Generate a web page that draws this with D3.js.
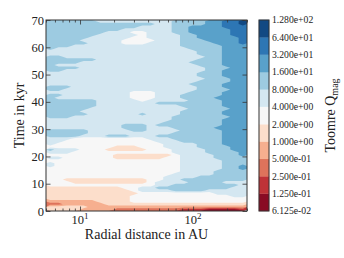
<!DOCTYPE html>
<html>
<head>
<meta charset="utf-8">
<script src="https://cdn.jsdelivr.net/npm/d3@7"></script>
<style>
  html, body { margin: 0; padding: 0; background: #fff; }
  svg { display: block; }
  text { font-family: "Liberation Serif", "DejaVu Serif", serif; fill: #222; }
</style>
</head>
<body>
<svg id="chart" width="344" height="258"></svg>
<script>
// ---------------- data ----------------
const radialDomain = [5, 300];          // AU (log axis)
const timeDomain = [0, 70];             // kyr
const qLevels = [0.06125, 0.125, 0.25, 0.5, 1, 2, 4, 8, 16, 32, 64, 128];
const cbTickLabels = ["6.125e-02", "1.250e-01", "2.500e-01", "5.000e-01", "1.000e+00",
  "2.000e+00", "4.000e+00", "8.000e+00", "1.600e+01", "3.200e+01", "6.400e+01", "1.280e+02"];
const yTicks = [0, 10, 20, 30, 40, 50, 60, 70];
const xMajorTicks = [10, 100];
const xMinorTicks = [5, 6, 7, 8, 9, 20, 30, 40, 50, 60, 70, 80, 90, 200, 300];
const xTickLabels = [["10", "1"], ["10", "2"]];
// Contour band index (0..10, 'A' = 10) of Toomre Q.
// 24 log-spaced radial columns (5 .. 300 AU), rows of 1 kyr from t = 70 (top) down to t = 0.
const qBandRows = [
  "77777766666666677778899A", // 69.5
  "77777777777776677778899A", // 68.5
  "777777777776666778888999", // 67.5
  "777777777666666778888899", // 66.5
  "777777766655666778888899", // 65.5
  "777777666665666677888899", // 64.5
  "777776666655666677888889", // 63.5
  "777766666555566677788889", // 62.5
  "777776666555666677778889", // 61.5
  "777666666666666677777888", // 60.5
  "766666666666666667777888", // 59.5
  "666666666666666666777888", // 58.5
  "666666666666666666777888", // 57.5
  "776666666666666666677888", // 56.5
  "777777666666666666777888", // 55.5
  "777766666666666667777888", // 54.5
  "766666666666666666777888", // 53.5
  "777766666666666666677788", // 52.5
  "776666666666666666677888", // 51.5
  "666666666666666666777888", // 50.5
  "666666666666666666777888", // 49.5
  "666666666666666666677788", // 48.5
  "666666666666666666777788", // 47.5
  "666666666666666667777888", // 46.5
  "777666666666666666777888", // 45.5
  "776666666666666666777788", // 44.5
  "666666666655566667777888", // 43.5
  "776666666655566677777888", // 42.5
  "766666666655566677778888", // 41.5
  "777777666665666667777888", // 40.5
  "777777666666677777777888", // 39.5
  "777777666666666677777888", // 38.5
  "777776666666666667777788", // 37.5
  "777766666666666677777888", // 36.5
  "777776666667666677777888", // 35.5
  "777666666666666777777788", // 34.5
  "666666666666666777777888", // 33.5
  "666666666666667777777888", // 32.5
  "666666666777677777777888", // 31.5
  "666666666777666777778888", // 30.5
  "777776666677666677777888", // 29.5
  "777776666666666777777888", // 28.5
  "777766677766677777777888", // 27.5
  "666555555555666777777888", // 26.5
  "665555555555566677777888", // 25.5
  "655555555555556666777888", // 24.5
  "555555554445556666777788", // 23.5
  "766655544444555666677788", // 22.5
  "666555555555555666677778", // 21.5
  "555555554444444566667778", // 20.5
  "665555554444445566667777", // 19.5
  "555555555555555566666777", // 18.5
  "655555555555555566666777", // 17.5
  "655555555555555566666778", // 16.5
  "555555555555555566666778", // 15.5
  "555555555555555566667777", // 14.5
  "555555555555555666667777", // 13.5
  "555555555555556666777777", // 12.5
  "554444444444556677777777", // 11.5
  "555444444444566667777666", // 10.5
  "555555555555566777777776", // 9.5
  "444444444556677777777766", // 8.5
  "444444444456666777766666", // 7.5
  "444444444445555555556666", // 6.5
  "444444444455555555555566", // 5.5
  "444444444455555555555555", // 4.5
  "333333444455555555555555", // 3.5
  "223333344444444444444444", // 2.5
  "444443333333333333333333", // 1.5
  "444433332222222211100001"  // 0.5
];

// ---------------- layout ----------------
const plot = { left: 46, right: 247, top: 20, bottom: 211 };
const cb = { x: 259, w: 10 };

const svg = d3.select("#chart");
const x = d3.scaleLog().domain(radialDomain).range([plot.left, plot.right]);
const y = d3.scaleLinear().domain(timeDomain).range([plot.bottom, plot.top]);

const nCols = 24, nRows = qBandRows.length;
const interp = d3.piecewise(d3.interpolateRgb, d3.schemeRdBu[11]);
const bandColors = d3.range(11).map(k => interp((k + 0.5) / 11));

// Q value of each grid cell (geometric centre of its band), contoured in log2 space
const qValues = [];
qBandRows.forEach(row => {
  for (let j = 0; j < nCols; j++) {
    const ch = row[j] !== undefined ? row[j] : "6";
    const k = parseInt(ch, 11);
    qValues.push(Math.sqrt(qLevels[k] * qLevels[k + 1]));
  }
});
const logValues = qValues.map(Math.log2);
const thresholds = qLevels.slice(0, 11).map(Math.log2);

const contours = d3.contours().size([nCols, nRows]).thresholds(thresholds)(logValues);

const lr0 = Math.log10(radialDomain[0]), lr1 = Math.log10(radialDomain[1]);
const proj = d3.geoTransform({
  point: function (gx, gy) {
    const r = Math.pow(10, lr0 + gx / nCols * (lr1 - lr0));
    const t = timeDomain[1] - gy / nRows * (timeDomain[1] - timeDomain[0]);
    this.stream.point(x(r), y(t));
  }
});
const path = d3.geoPath(proj);

svg.append("clipPath").attr("id", "clip")
  .append("rect").attr("x", plot.left).attr("y", plot.top)
  .attr("width", plot.right - plot.left).attr("height", plot.bottom - plot.top);

svg.append("g").attr("clip-path", "url(#clip)")
  .selectAll("path").data(contours).join("path")
  .attr("d", path)
  .attr("fill", (d, i) => bandColors[i]);

// ---------------- axes ----------------
const tickColor = "#333";
function styleAxis(g) {
  g.select(".domain").remove();
  g.selectAll(".tick line").attr("stroke", tickColor).attr("stroke-width", 0.8);
}
// x major / minor, bottom and top, ticks pointing inward
svg.append("g").attr("transform", `translate(0,${plot.bottom})`)
  .call(d3.axisBottom(x).tickValues(xMajorTicks).tickSize(-4.5).tickFormat(""))
  .call(styleAxis);
svg.append("g").attr("transform", `translate(0,${plot.bottom})`)
  .call(d3.axisBottom(x).tickValues(xMinorTicks).tickSize(-2.5).tickFormat(""))
  .call(styleAxis);
svg.append("g").attr("transform", `translate(0,${plot.top})`)
  .call(d3.axisTop(x).tickValues(xMajorTicks).tickSize(-4.5).tickFormat(""))
  .call(styleAxis);
svg.append("g").attr("transform", `translate(0,${plot.top})`)
  .call(d3.axisTop(x).tickValues(xMinorTicks).tickSize(-2.5).tickFormat(""))
  .call(styleAxis);
// y left (with labels) and right
const yAxis = svg.append("g").attr("transform", `translate(${plot.left},0)`)
  .call(d3.axisLeft(y).tickValues(yTicks).tickSize(-4.5).tickPadding(2).tickFormat(d3.format("d")))
  .call(styleAxis);
yAxis.selectAll(".tick text")
  .style("font-family", '"Liberation Serif", serif')
  .attr("font-size", 12.5).attr("fill", "#222");
svg.append("g").attr("transform", `translate(${plot.right},0)`)
  .call(d3.axisRight(y).tickValues(yTicks).tickSize(-4.5).tickFormat(""))
  .call(styleAxis);

// x tick labels with superscripts
xMajorTicks.forEach((v, i) => {
  const t = svg.append("text").attr("x", x(v)).attr("y", 224)
    .attr("text-anchor", "middle").attr("font-size", 12.5);
  t.append("tspan").text(xTickLabels[i][0]);
  t.append("tspan").attr("dy", -5).attr("font-size", 9).text(xTickLabels[i][1]);
});

// frame
svg.append("rect").attr("x", plot.left).attr("y", plot.top)
  .attr("width", plot.right - plot.left).attr("height", plot.bottom - plot.top)
  .attr("fill", "none").attr("stroke", "#333").attr("stroke-width", 1);

// axis titles
svg.append("text").attr("x", (plot.left + plot.right) / 2).attr("y", 239)
  .attr("text-anchor", "middle").attr("font-size", 14).text("Radial distance in AU");
svg.append("text").attr("transform", `translate(24,${(plot.top + plot.bottom) / 2}) rotate(-90)`)
  .attr("text-anchor", "middle").attr("font-size", 14).text("Time in kyr");

// ---------------- colorbar ----------------
const cbY = d3.scaleLinear().domain([0, 11]).range([plot.bottom, plot.top]);
svg.append("g").selectAll("rect").data(bandColors).join("rect")
  .attr("x", cb.x).attr("width", cb.w)
  .attr("y", (d, k) => cbY(k + 1)).attr("height", (d, k) => cbY(k) - cbY(k + 1))
  .attr("fill", d => d).attr("stroke", d => d).attr("stroke-width", 0.3);
svg.append("rect").attr("x", cb.x).attr("y", plot.top).attr("width", cb.w)
  .attr("height", plot.bottom - plot.top).attr("fill", "none")
  .attr("stroke", "#333").attr("stroke-width", 1);
svg.append("g").selectAll("text").data(cbTickLabels).join("text")
  .attr("x", cb.x + cb.w + 3).attr("y", (d, k) => cbY(k))
  .attr("dy", "0.35em").attr("font-size", 9.7).text(d => d);

const cbl = svg.append("text")
  .attr("transform", `translate(335,${(plot.top + plot.bottom) / 2}) rotate(-90)`)
  .attr("text-anchor", "middle").attr("font-size", 14);
cbl.append("tspan").text("Toomre Q");
cbl.append("tspan").attr("dy", 3).attr("font-size", 10).text("mag");
</script>
</body>
</html>
